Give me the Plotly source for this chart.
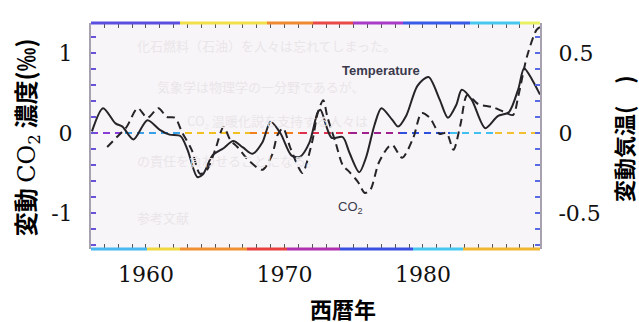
import plotly.graph_objects as go

# ---- data ----
temp_years = [1956.1, 1956.9, 1957.8, 1958.3, 1959.1, 1960.1, 1961.0, 1961.7, 1962.5, 1963.0,
              1963.7, 1964.1, 1964.8, 1965.6, 1966.3, 1967.0, 1967.7, 1968.4, 1969.0, 1969.7,
              1970.5, 1971.1, 1971.8, 1972.4, 1972.6, 1973.4, 1974.2, 1974.7, 1975.4, 1975.9,
              1976.5, 1977.0, 1977.8, 1978.2, 1978.8, 1979.6, 1980.4, 1981.2, 1981.8, 1982.4,
              1982.8, 1983.5, 1984.5, 1985.4, 1986.2, 1986.9, 1987.3, 1987.9, 1988.45]
temp_values = [0.01, 0.155, 0.06, 0.04, -0.04, 0.08, 0.02, -0.01, -0.02, -0.105,
               -0.275, -0.26, -0.14, -0.095, -0.05, -0.09, -0.13, -0.06, 0.07, 0.0,
               -0.14, -0.15, -0.06, 0.13, 0.145, -0.03, -0.025, -0.125, -0.245, -0.15,
               0.05, 0.155, 0.08, 0.04, 0.11, 0.295, 0.35, 0.21, 0.095, 0.175,
               0.27, 0.21, 0.03, 0.105, 0.13, 0.28, 0.405, 0.33, 0.24]

co2_years = [1957.2, 1957.9, 1958.6, 1959.4, 1960.1, 1960.9, 1961.5, 1962.1, 1962.6, 1963.3,
             1963.9, 1964.4, 1965.0, 1965.6, 1966.1, 1966.6, 1967.4, 1968.4, 1969.1, 1969.5,
             1969.9, 1970.4, 1971.0, 1971.3, 1972.0, 1972.4, 1972.8, 1973.1, 1973.7, 1974.2,
             1974.7, 1975.3, 1975.8, 1976.2, 1976.8, 1977.5, 1977.8, 1978.5, 1979.3, 1979.9,
             1980.5, 1981.2, 1981.7, 1982.2, 1982.7, 1983.2, 1984.0, 1985.0, 1985.9, 1986.5,
             1986.9, 1987.5, 1988.2, 1988.45]
co2_values = [-0.175, -0.05, 0.075, 0.31, 0.19, 0.31, 0.20, 0.19, 0.01, -0.21,
              -0.51, -0.46, -0.21, 0.075, -0.09, -0.175, -0.34, -0.46, -0.275, -0.025,
              0.06, -0.175, -0.425, -0.50, -0.11, 0.25, 0.41, 0.20, -0.125, -0.40,
              -0.49, -0.61, -0.75, -0.71, -0.375, -0.175, -0.15, -0.31, -0.06, 0.25,
              0.19, -0.01, 0.0, -0.21, 0.10, 0.475, 0.36, 0.325, 0.26, 0.225,
              0.475, 0.95, 1.29, 1.325]

x_ticks = [1960, 1970, 1980]
y_left_ticks = [-1, 0, 1]
y_left_labels = ["-1", "0", "1"]
y_right_ticks = [-0.5, 0, 0.5]
y_right_labels = ["-0.5", "0", "0.5"]

X_RANGE = [1956.03, 1988.45]
Y1_RANGE = [-1.45, 1.375]
Y2_RANGE = [Y1_RANGE[0] / 2, Y1_RANGE[1] / 2]

LINE_COLOR = "#262428"
SERIF = "DejaVu Serif"
CJK = "Noto Sans CJK JP"

fig = go.Figure()
fig.add_trace(go.Scatter(x=co2_years, y=co2_values, mode="lines", name="CO2",
                         line=dict(color=LINE_COLOR, width=2, dash="8px,5px",
                                   shape="spline", smoothing=0.8),
                         yaxis="y", showlegend=False, hoverinfo="skip"))
fig.add_trace(go.Scatter(x=temp_years, y=temp_values, mode="lines", name="Temperature",
                         line=dict(color=LINE_COLOR, width=2, shape="spline", smoothing=0.8),
                         yaxis="y2", showlegend=False, hoverinfo="skip"))

shapes = []
# coloured dashed zero line (scan colour fringes)
zero_segments = [(91, 125, "#8a3cd8"), (125, 185, "#3aa0e8"), (185, 250, "#f0c020"),
                 (250, 300, "#f08020"), (300, 350, "#e03050"), (350, 400, "#a02090"),
                 (400, 450, "#3050e0"), (450, 495, "#40c0f0"), (495, 540, "#f0c030")]
for a, b, c in zero_segments:
    shapes.append(dict(type="line", xref="paper", yref="y", x0=(a - 91) / 449, x1=(b - 91) / 449,
                       y0=0, y1=0, line=dict(color=c, width=2, dash="7px,5px"), layer="below"))
# coloured top / bottom frame
top_segments = [(91, 180, "#5a4ee0"), (180, 267, "#f2e04a"), (267, 313, "#f08a30"),
                (313, 353, "#e84848"), (353, 403, "#a83cc8"), (403, 470, "#3a5ae8"),
                (470, 520, "#48c8f0"), (520, 540, "#e8f060")]
bottom_segments = [(91, 147, "#48b8f0"), (147, 180, "#f0d840"), (180, 247, "#f09030"),
                   (247, 287, "#e84040"), (287, 340, "#b030b0"), (340, 413, "#3a50e0"),
                   (413, 463, "#48c8f0"), (463, 540, "#f0b830")]
for a, b, c in top_segments:
    shapes.append(dict(type="line", xref="paper", yref="paper", x0=(a - 91) / 449, x1=(b - 91) / 449,
                       y0=1, y1=1, line=dict(color=c, width=3)))
for a, b, c in bottom_segments:
    shapes.append(dict(type="line", xref="paper", yref="paper", x0=(a - 91) / 449, x1=(b - 91) / 449,
                       y0=0, y1=0, line=dict(color=c, width=3)))

annotations = []
faint = "#e9e5e9"
bg_lines = [
    (135, 45, "化石燃料（石油）を人々は忘れてしまった。"),
    (155, 86, "気象学は物理学の一分野であるが、"),
    (185, 120, "CO₂ 温暖化説を支持する人々は"),
    (135, 160, "の責任を負わせることになる。"),
    (135, 217, "参考文献"),
]
for px, py, t in bg_lines:
    annotations.append(dict(text=t, xref="paper", yref="paper", x=(px - 91) / 449,
                            y=(249 - py) / 226, xanchor="left", yanchor="middle",
                            showarrow=False, font=dict(family=CJK, size=13, color=faint)))

annotations.append(dict(text="<b>Temperature</b>", x=1977.0, y=0.78, xref="x", yref="y",
                        showarrow=False, font=dict(family="Liberation Sans", size=13, color="#3a3a4c")))
annotations.append(dict(text="CO<sub>2</sub>", x=1974.8, y=-0.925, xref="x", yref="y",
                        showarrow=False, font=dict(family="Liberation Sans", size=13, color="#3a3a4c")))

# axis titles
annotations.append(dict(
    text="<b>変動</b> <span style=\"font-family:'DejaVu Serif';font-weight:normal\">CO<sub>2</sub></span> <b>濃度(‰)</b>",
    xref="paper", yref="paper", x=(25 - 91) / 449, y=0.495, xanchor="center", yanchor="middle",
    textangle=-90, showarrow=False, font=dict(family=CJK, size=24, color="#000")))
annotations.append(dict(text="<b>変動気温(　)</b>", xref="paper", yref="paper",
                        x=(623 - 91) / 449, y=(249 - 139) / 226, xanchor="center", yanchor="middle",
                        textangle=-90, showarrow=False, font=dict(family=CJK, size=22, color="#000")))
annotations.append(dict(text="<b>西暦年</b>", xref="paper", yref="paper",
                        x=(343 - 91) / 449, y=(249 - 308) / 226, xanchor="center", yanchor="middle",
                        showarrow=False, font=dict(family=CJK, size=22, color="#000")))

fig.update_layout(
    width=639, height=322,
    margin=dict(l=91, r=99, t=23, b=73),
    paper_bgcolor="white", plot_bgcolor="#f8f5f8",
    shapes=shapes, annotations=annotations,
    xaxis=dict(range=X_RANGE, tickvals=x_ticks, ticks="inside", ticklen=5, tickwidth=1,
               tickcolor="#555", showgrid=False, zeroline=False, showline=True,
               linecolor="rgba(0,0,0,0)", mirror="allticks",
               minor=dict(dtick=1, tick0=1960, ticks="inside", ticklen=5, tickwidth=1, tickcolor="#555"),
               tickfont=dict(family=SERIF, size=22, color="#111"), ticklabelstandoff=6),
    yaxis=dict(range=Y1_RANGE, tickvals=y_left_ticks, ticktext=y_left_labels, ticks="inside",
               ticklen=5, tickwidth=2, tickcolor="#6a52d8", showgrid=False, zeroline=False,
               showline=True, linecolor="#a8a2b0", linewidth=2,
               minor=dict(dtick=0.2, tick0=0, ticks="inside", ticklen=5, tickwidth=2, tickcolor="#6a52d8"),
               tickfont=dict(family=SERIF, size=22, color="#111"), ticklabelstandoff=12),
    yaxis2=dict(range=Y2_RANGE, tickvals=y_right_ticks, ticktext=y_right_labels, overlaying="y",
                side="right", ticks="inside", ticklen=5, tickwidth=2, tickcolor="#5a6ae0",
                showgrid=False, zeroline=False, showline=True, linecolor="#a8a2b0", linewidth=2,
                minor=dict(dtick=0.1, tick0=0, ticks="inside", ticklen=5, tickwidth=2, tickcolor="#5a6ae0"),
                tickfont=dict(family=SERIF, size=22, color="#111"), ticklabelstandoff=12),
)

fig.write_html("out.html")
